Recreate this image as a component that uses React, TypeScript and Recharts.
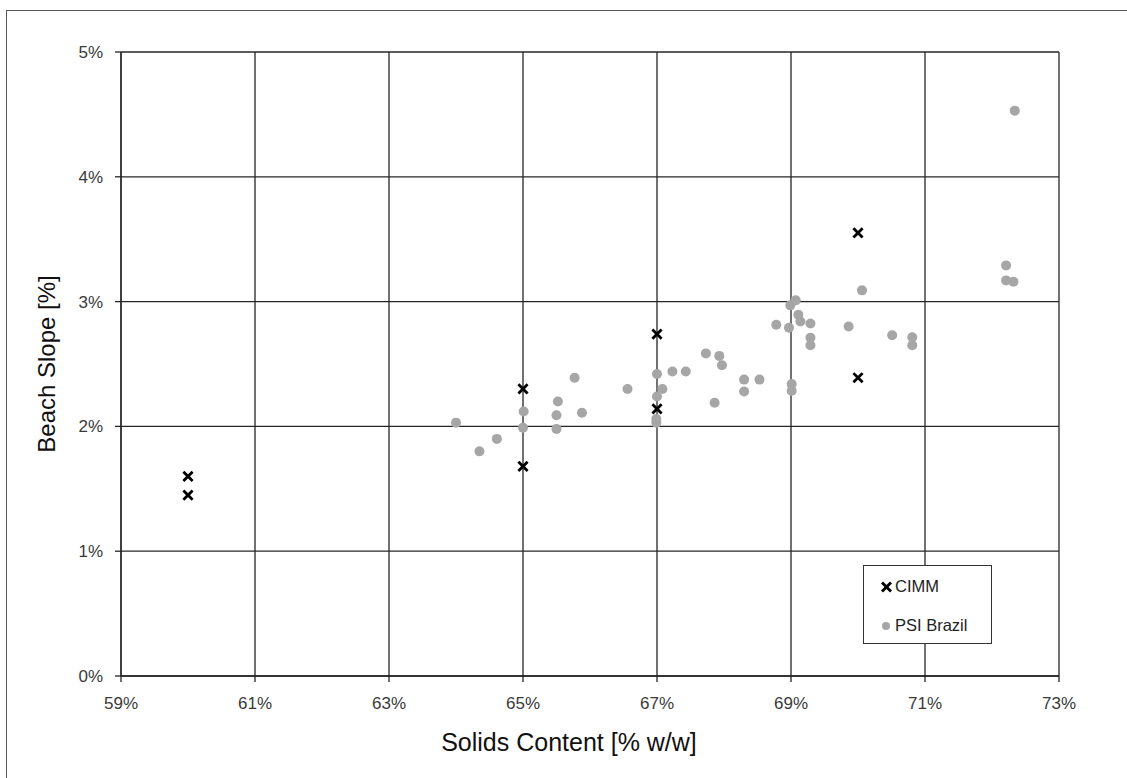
import React from "react";
import {
  ScatterChart,
  Scatter,
  XAxis,
  YAxis,
  CartesianGrid,
} from "recharts";

const cimmX = [60, 60, 65, 65, 67, 67, 70, 70];
const cimmY = [1.6, 1.45, 2.3, 1.68, 2.74, 2.14, 3.55, 2.39];

const psiX = [
  64.0, 64.35, 64.61, 65.01, 65.0, 65.52, 65.5, 65.5, 65.77, 65.88, 66.56,
  67.0, 67.0, 67.08, 66.99, 66.99, 67.23, 67.43, 67.86, 67.97, 67.73, 67.93,
  68.3, 68.3, 68.53, 68.78, 68.97, 68.99, 69.07, 69.11, 69.14, 69.29, 69.29,
  69.29, 69.01, 69.01, 69.86, 70.06, 70.51, 70.81, 70.81, 72.34, 72.21, 72.21,
  72.32,
];
const psiY = [
  2.03, 1.8, 1.9, 2.12, 1.99, 2.2, 2.09, 1.98, 2.39, 2.11, 2.3, 2.42, 2.24, 2.3,
  2.03, 2.06, 2.44, 2.44, 2.19, 2.49, 2.585, 2.565, 2.375, 2.28, 2.375, 2.815,
  2.79, 2.97, 3.01, 2.895, 2.84, 2.825, 2.71, 2.65, 2.34, 2.285, 2.8, 3.09,
  2.73, 2.715, 2.65, 4.53, 3.29, 3.17, 3.16,
];

const xTicks = [59, 61, 63, 65, 67, 69, 71, 73];
const yTicks = [0, 1, 2, 3, 4, 5];
const seriesNames = ["CIMM", "PSI Brazil"];

const cimmData = cimmX.map((x, i) => ({ x, y: cimmY[i] }));
const psiData = psiX.map((x, i) => ({ x, y: psiY[i] }));

const FONT = "'Liberation Sans', Arial, sans-serif";
const GRID = "#262626";
const DOT = "#a6a6a6";

const Cross = (props: any) => {
  const { cx, cy } = props;
  if (cx == null || cy == null) return null;
  const h = 4.6;
  return (
    <g stroke="#000" strokeWidth={2.8} strokeLinecap="butt">
      <line x1={cx - h} y1={cy - h} x2={cx + h} y2={cy + h} />
      <line x1={cx - h} y1={cy + h} x2={cx + h} y2={cy - h} />
    </g>
  );
};

const Dot = (props: any) => {
  const { cx, cy } = props;
  if (cx == null || cy == null) return null;
  return <circle cx={cx} cy={cy} r={5} fill={DOT} />;
};

const LegendBox = () => (
  <div
    style={{
      position: "absolute",
      left: 863,
      top: 565,
      width: 127,
      height: 77,
      border: "1px solid #333",
      background: "#fff",
      fontFamily: FONT,
      fontSize: 16.5,
      color: "#222",
    }}
  >
    <div style={{ position: "absolute", left: 16, top: 11, display: "flex", alignItems: "center" }}>
      <svg width={14} height={14} style={{ display: "block" }}>
        <g stroke="#000" strokeWidth={2.8}>
          <line x1={2} y1={2.5} x2={11} y2={11.5} />
          <line x1={2} y1={11.5} x2={11} y2={2.5} />
        </g>
      </svg>
      <span style={{ marginLeft: 1 }}>{seriesNames[0]}</span>
    </div>
    <div style={{ position: "absolute", left: 16, top: 50, display: "flex", alignItems: "center" }}>
      <svg width={14} height={14} style={{ display: "block" }}>
        <circle cx={6} cy={7} r={4} fill={DOT} />
      </svg>
      <span style={{ marginLeft: 1 }}>{seriesNames[1]}</span>
    </div>
  </div>
);

export default function App() {
  return (
    <div
      style={{
        position: "absolute",
        left: 0,
        top: 0,
        width: 1127,
        height: 778,
        overflow: "hidden",
        background: "#fff",
      }}
    >
      <div
        style={{
          position: "absolute",
          left: 6,
          top: 10,
          width: 1140,
          height: 790,
          border: "1px solid #555",
        }}
      />
      <div style={{ position: "absolute", left: 0, top: 0 }}>
        <ScatterChart
          width={1127}
          height={778}
          margin={{ top: 52, right: 68, bottom: 72, left: 21 }}
        >
          <CartesianGrid
            stroke={GRID}
            strokeWidth={1.3}
            horizontalValues={yTicks}
            verticalValues={xTicks}
          />
          <XAxis
            type="number"
            dataKey="x"
            domain={[59, 73]}
            ticks={xTicks}
            interval={0}
            height={30}
            tickFormatter={(v: number) => `${v}%`}
            tick={{ fill: "#3a3a3a", fontSize: 17, fontFamily: FONT }}
            tickSize={6}
            tickMargin={15}
            axisLine={{ stroke: GRID, strokeWidth: 1.3 }}
            tickLine={{ stroke: GRID, strokeWidth: 1.3 }}
            allowDataOverflow
            label={{
              value: "Solids Content [% w/w]",
              position: "bottom",
              offset: 27,
              dx: -21,
              style: { fill: "#111", fontSize: 25, fontFamily: FONT },
            }}
          />
          <YAxis
            type="number"
            dataKey="y"
            domain={[0, 5]}
            ticks={yTicks}
            interval={0}
            width={100}
            tickFormatter={(v: number) => `${v}%`}
            tick={{ fill: "#3a3a3a", fontSize: 17, fontFamily: FONT }}
            tickSize={6}
            tickMargin={12}
            axisLine={{ stroke: GRID, strokeWidth: 1.3 }}
            tickLine={{ stroke: GRID, strokeWidth: 1.3 }}
            allowDataOverflow
            label={{
              value: "Beach Slope [%]",
              angle: -90,
              position: "insideLeft",
              offset: 25,
              style: { fill: "#111", fontSize: 24, fontFamily: FONT, textAnchor: "middle" },
            }}
          />
          <Scatter
            name={seriesNames[0]}
            data={cimmData}
            shape={<Cross />}
            isAnimationActive={false}
          />
          <Scatter
            name={seriesNames[1]}
            data={psiData}
            shape={<Dot />}
            isAnimationActive={false}
          />
        </ScatterChart>
      </div>
      <LegendBox />
    </div>
  );
}
